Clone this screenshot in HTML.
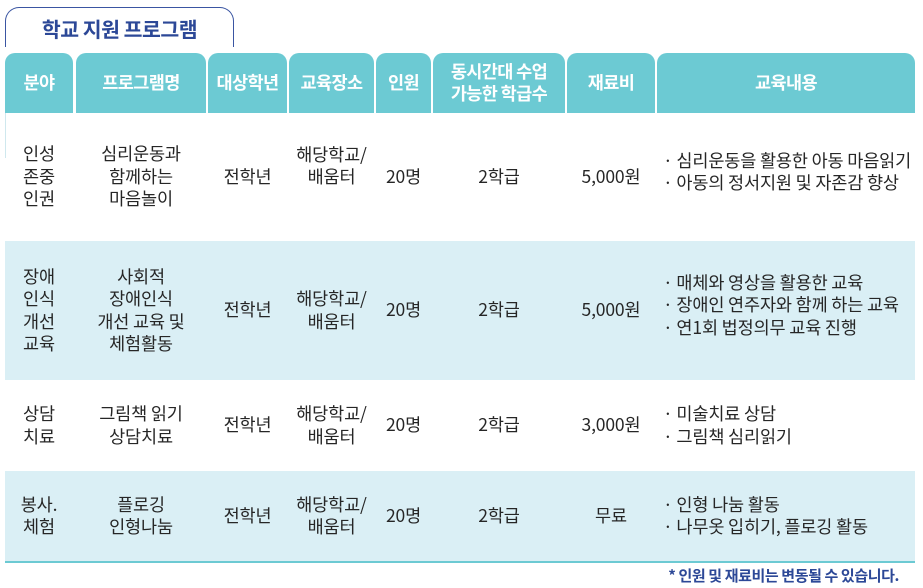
<!DOCTYPE html>
<html><head><meta charset="utf-8">
<style>
*{margin:0;padding:0;box-sizing:border-box}
html,body{width:923px;height:588px;background:#fff;overflow:hidden}
body{position:relative;font-family:"Liberation Sans","Noto Sans CJK KR",sans-serif;color:#262626}
.title{position:absolute;left:5px;top:7px;width:229px;height:40px;border:1.6px solid #3a55a2;border-bottom:none;border-radius:14px 14px 0 0}
.title span{position:absolute;left:0;right:0;top:6px;text-align:center;font-family:"Noto Sans CJK KR",sans-serif;font-weight:700;font-size:20.5px;line-height:28px;color:#2c4897;letter-spacing:-0.5px}
.tab{position:absolute;top:53px;height:60px;background:#6ccad3;border-radius:10px 10px 0 0;color:#fff;font-family:"Noto Sans CJK KR",sans-serif;font-weight:700;font-size:17.5px;display:flex;align-items:center;justify-content:center;text-align:center;line-height:22.5px;letter-spacing:-0.6px}
.row{position:absolute;left:5px;width:910px}
.blue{background:#daeff5}
.c{position:absolute;display:flex;align-items:center;justify-content:center;text-align:center;font-family:"Noto Sans CJK KR",sans-serif;font-size:17.5px;line-height:22.5px;letter-spacing:-0.15px}
.l{justify-content:flex-start;text-align:left;padding-left:6px;white-space:nowrap}
.line{position:absolute;left:5px;top:561px;width:910px;height:2px;background:#6ccad3}
.note{position:absolute;right:24px;top:565px;font-family:"Noto Sans CJK KR",sans-serif;font-weight:700;font-size:15px;line-height:22px;color:#2c4897;letter-spacing:-0.4px;white-space:nowrap}
.vl{position:absolute;left:5px;top:113px;width:1px;height:45px;background:#cfe8ee}
</style></head><body>
<div class="title"><span>학교 지원 프로그램</span></div>

<div class="tab" style="left:5px;width:68px">분야</div>
<div class="tab" style="left:76px;width:130px">프로그램명</div>
<div class="tab" style="left:208px;width:79px">대상학년</div>
<div class="tab" style="left:289px;width:85px">교육장소</div>
<div class="tab" style="left:376px;width:55px">인원</div>
<div class="tab" style="left:433px;width:132px">동시간대 수업<br>가능한 학급수</div>
<div class="tab" style="left:567px;width:88px">재료비</div>
<div class="tab" style="left:657px;width:258px">교육내용</div>

<div class="row blue" style="top:241px;height:139px"></div>
<div class="row blue" style="top:471px;height:90px"></div>
<div class="vl"></div>
<div class="line"></div>

<!-- Row 1 : 113-241 -->
<div class="c" style="left:5px;width:68px;top:113px;height:128px">인성<br>존중<br>인권</div>
<div class="c" style="left:76px;width:130px;top:113px;height:128px">심리운동과<br>함께하는<br>마음놀이</div>
<div class="c" style="left:208px;width:79px;top:113px;height:128px">전학년</div>
<div class="c" style="left:289px;width:85px;top:113px;height:106px">해당학교/<br>배움터</div>
<div class="c" style="left:376px;width:55px;top:113px;height:128px">20명</div>
<div class="c" style="left:433px;width:132px;top:113px;height:128px">2학급</div>
<div class="c" style="left:567px;width:88px;top:113px;height:128px">5,000원</div>
<div class="c l" style="left:657px;width:266px;top:113px;height:118px">· 심리운동을 활용한 아동 마음읽기<br>· 아동의 정서지원 및 자존감 향상</div>

<!-- Row 2 : 241-380 -->
<div class="c" style="left:5px;width:68px;top:241px;height:139px">장애<br>인식<br>개선<br>교육</div>
<div class="c" style="left:76px;width:130px;top:241px;height:139px">사회적<br>장애인식<br>개선 교육 및<br>체험활동</div>
<div class="c" style="left:208px;width:79px;top:241px;height:139px">전학년</div>
<div class="c" style="left:289px;width:85px;top:241px;height:139px">해당학교/<br>배움터</div>
<div class="c" style="left:376px;width:55px;top:241px;height:139px">20명</div>
<div class="c" style="left:433px;width:132px;top:241px;height:139px">2학급</div>
<div class="c" style="left:567px;width:88px;top:241px;height:139px">5,000원</div>
<div class="c l" style="left:657px;width:266px;top:241px;height:129px">· 매체와 영상을 활용한 교육<br>· 장애인 연주자와 함께 하는 교육<br>· 연1회 법정의무 교육 진행</div>

<!-- Row 3 : 380-471 -->
<div class="c" style="left:5px;width:68px;top:380px;height:91px">상담<br>치료</div>
<div class="c" style="left:76px;width:130px;top:380px;height:91px">그림책 읽기<br>상담치료</div>
<div class="c" style="left:208px;width:79px;top:380px;height:91px">전학년</div>
<div class="c" style="left:289px;width:85px;top:380px;height:91px">해당학교/<br>배움터</div>
<div class="c" style="left:376px;width:55px;top:380px;height:91px">20명</div>
<div class="c" style="left:433px;width:132px;top:380px;height:91px">2학급</div>
<div class="c" style="left:567px;width:88px;top:380px;height:91px">3,000원</div>
<div class="c l" style="left:657px;width:266px;top:380px;height:91px">· 미술치료 상담<br>· 그림책 심리읽기</div>

<!-- Row 4 : 471-561 -->
<div class="c" style="left:5px;width:68px;top:471px;height:90px">봉사.<br>체험</div>
<div class="c" style="left:76px;width:130px;top:471px;height:90px">플로깅<br>인형나눔</div>
<div class="c" style="left:208px;width:79px;top:471px;height:90px">전학년</div>
<div class="c" style="left:289px;width:85px;top:471px;height:90px">해당학교/<br>배움터</div>
<div class="c" style="left:376px;width:55px;top:471px;height:90px">20명</div>
<div class="c" style="left:433px;width:132px;top:471px;height:90px">2학급</div>
<div class="c" style="left:567px;width:88px;top:471px;height:90px">무료</div>
<div class="c l" style="left:657px;width:266px;top:471px;height:90px">· 인형 나눔 활동<br>· 나무옷 입히기, 플로깅 활동</div>

<div class="note">* 인원 및 재료비는 변동될 수 있습니다.</div>
</body></html>
